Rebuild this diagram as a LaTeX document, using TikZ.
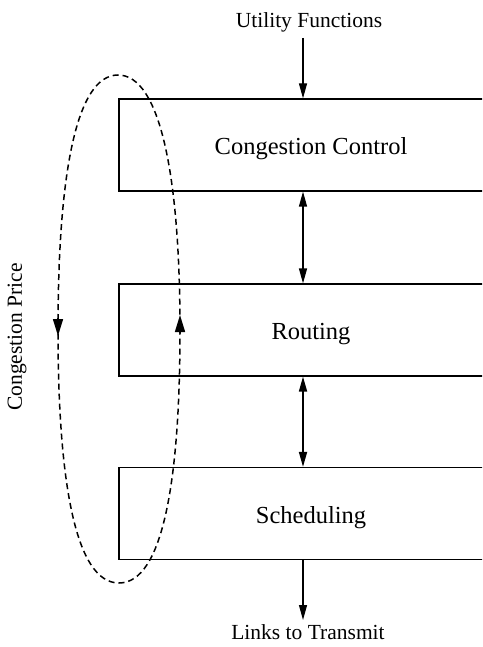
\documentclass[tikz,border=0pt]{standalone}
\usepackage{fontspec}
\setmainfont{Liberation Serif}
\usetikzlibrary{arrows.meta}
\tikzset{
  layerbox/.style={draw, line width=1.2pt, minimum width=384pt, minimum height=92pt, inner sep=0pt, text height=21pt, text depth=2pt, font=\fontsize{24.5}{28}\selectfont},
  lbl/.style={inner sep=0pt, font=\fontsize{21.5}{25}\selectfont},
  arr/.style={line width=1.2pt, -{Triangle[length=15pt,width=8pt]}},
  darr/.style={line width=1.3pt, {Triangle[length=15pt,width=8pt]}-{Triangle[length=15pt,width=8pt]}},
  loop/.style={line width=1.5pt, dash pattern=on 6pt off 4pt},
  looptip/.style={line width=1.5pt, -{Triangle[length=17pt,width=10pt]}}
}
\begin{document}
\begin{tikzpicture}[x=1pt,y=-1pt]
\useasboundingbox (0,0) rectangle (482,647);
\begin{scope}
\clip (0,0) rectangle (482,647);
\node[layerbox] (cc) at (311,145) {Congestion Control};
\node[layerbox] (rt) at (311,330) {Routing};
\node[layerbox] (sc) at (311,513.5) {Scheduling};
\end{scope}
\coordinate (ax) at (303,0);
\node[lbl] (uf) at (309,22) {Utility Functions};
\node[lbl] (lt) at (308,632) {Links to Transmit};
\node[lbl, rotate=90] (cp) at (17,337) {Congestion Price};
\coordinate (ufa) at (303,38);
\coordinate (lta) at (303,620);
\draw[arr] (ufa) -- (cc.north -| ax);
\draw[darr] (cc.south -| ax) -- (rt.north -| ax);
\draw[darr, line width=1.7pt] (rt.south -| ax) -- (sc.north -| ax);
\draw[arr] (sc.south -| ax) -- (lta);
% dashed loop
\draw[loop] (58,330) .. controls (58,175) and (76,75) .. (118,75)
  .. controls (160,75) and (180,175) .. (180,330)
  .. controls (180,480) and (163,583) .. (119,583)
  .. controls (75,583) and (58,480) .. (58,330) -- cycle;
\coordinate (la) at (58,318);
\coordinate (lb) at (58,336);
\coordinate (ra) at (180,332);
\coordinate (rb) at (180,315);
\draw[looptip] (la) -- (lb);
\draw[looptip] (ra) -- (rb);
\end{tikzpicture}
\end{document}
